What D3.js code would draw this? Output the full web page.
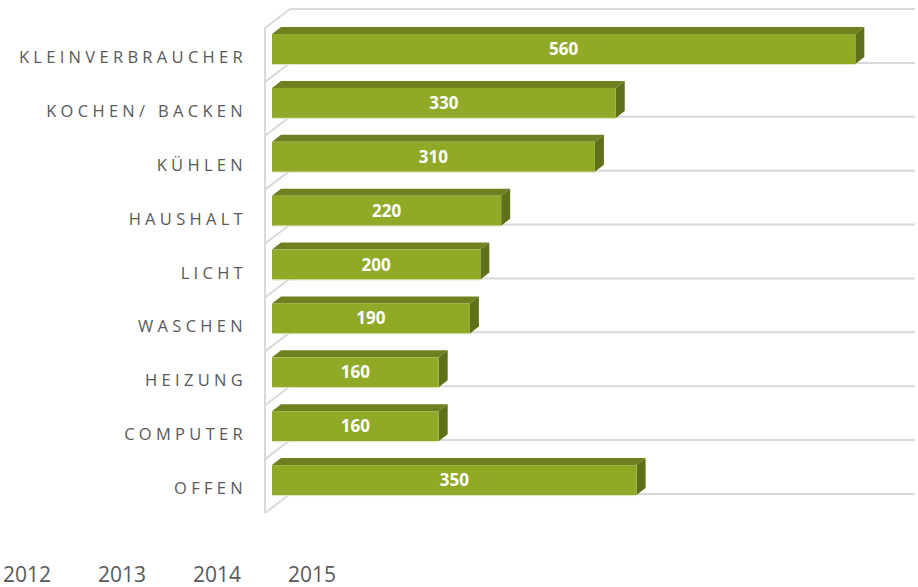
<!DOCTYPE html>
<html>
<head>
<meta charset="utf-8">
<script src="https://cdn.jsdelivr.net/npm/d3@7/dist/d3.min.js"></script>
<style>
  body { margin: 0; background: #fff; }
  svg text { font-family: "Open Sans", "Liberation Sans", sans-serif; }
</style>
</head>
<body>
<div id="chart-area"></div>
<script>
// chart data
var categories = ["KLEINVERBRAUCHER", "KOCHEN/ BACKEN", "KÜHLEN", "HAUSHALT", "LICHT", "WASCHEN", "HEIZUNG", "COMPUTER", "OFFEN"];
var values = [560, 330, 310, 220, 200, 190, 160, 160, 350];
var years = ["2012", "2013", "2014", "2015"];

var width = 918, height = 587;
var dx = 9, dy = -7;   // 3d depth offset

var svg = d3.select("#chart-area").append("svg")
    .attr("width", width)
    .attr("height", height);

var x = d3.scaleLinear().domain([0, 600]).range([272, 897]);
// front edge of the category bands
var y = d3.scaleBand().domain(categories).range([28, 513]).padding(0);

// back wall: category lines
var lines = d3.range(categories.length + 1);
svg.selectAll("line.grid").data(lines).enter().append("line")
    .attr("class", "grid")
    .attr("x1", 265 + 25).attr("x2", 915)
    .attr("y1", function(k) { return 28 + k * y.step() - 19; })
    .attr("y2", function(k) { return 28 + k * y.step() - 19; })
    .attr("stroke", "#d9d9d9").attr("stroke-width", 2);

// left wall (floor)
svg.selectAll("line.floor").data(lines).enter().append("line")
    .attr("class", "floor")
    .attr("x1", 265).attr("x2", 290)
    .attr("y1", function(k) { return 28 + k * y.step(); })
    .attr("y2", function(k) { return 28 + k * y.step() - 19; })
    .attr("stroke", "#d9d9d9").attr("stroke-width", 2);
svg.append("line")
    .attr("x1", 265).attr("x2", 265)
    .attr("y1", y.range()[0]).attr("y2", y.range()[1])
    .attr("stroke", "#d9d9d9").attr("stroke-width", 2);

// bars
var bar = svg.selectAll("g.bar").data(values).enter().append("g").attr("class", "bar");

function barTop(i) { return y(categories[i]) + 6; }
var bh = 30;

// top face
bar.append("path")
    .attr("fill", "#6f8020")
    .attr("d", function(d, i) {
        var t = barTop(i), x0 = x(0), x1 = x(d);
        return "M" + x0 + "," + t + "L" + (x0 + dx) + "," + (t + dy) +
               "L" + (x1 + dx) + "," + (t + dy) + "L" + x1 + "," + t + "Z";
    });
// side face
bar.append("path")
    .attr("fill", "#5e701a")
    .attr("d", function(d, i) {
        var t = barTop(i), x1 = x(d);
        return "M" + x1 + "," + t + "L" + (x1 + dx) + "," + (t + dy) +
               "L" + (x1 + dx) + "," + (t + bh + dy) + "L" + x1 + "," + (t + bh) + "Z";
    });
// front face
bar.append("rect")
    .attr("x", x(0))
    .attr("y", function(d, i) { return barTop(i); })
    .attr("width", function(d) { return x(d) - x(0); })
    .attr("height", bh)
    .attr("fill", "#90aa28");
bar.append("line")
    .attr("x1", x(0))
    .attr("x2", function(d) { return x(d); })
    .attr("y1", function(d, i) { return barTop(i) + bh + 0.5; })
    .attr("y2", function(d, i) { return barTop(i) + bh + 0.5; })
    .attr("stroke", "#dfe6c4").attr("stroke-width", 1);

// value labels
bar.append("text")
    .attr("x", function(d) { return (x(0) + x(d)) / 2; })
    .attr("y", function(d, i) { return barTop(i) + bh / 2 + 6; })
    .attr("text-anchor", "middle")
    .attr("fill", "#fff")
    .attr("font-weight", "bold")
    .attr("font-size", 17)
    .text(function(d) { return d; });

// category labels
svg.selectAll("text.cat").data(categories).enter().append("text")
    .attr("class", "cat")
    .attr("x", 247)
    .attr("y", function(d) { return y(d) + y.bandwidth() / 2 + 8; })
    .attr("text-anchor", "end")
    .attr("fill", "#595959")
    .attr("font-size", 16.5)
    .attr("letter-spacing", 4.3)
    .text(function(d) { return d; });

// year labels at bottom
svg.selectAll("text.year").data(years).enter().append("text")
    .attr("class", "year")
    .attr("x", function(d, i) { return 3 + i * 95; })
    .attr("y", 582)
    .attr("fill", "#595959")
    .attr("font-size", 21)
    .text(function(d) { return d; });
</script>
</body>
</html>
